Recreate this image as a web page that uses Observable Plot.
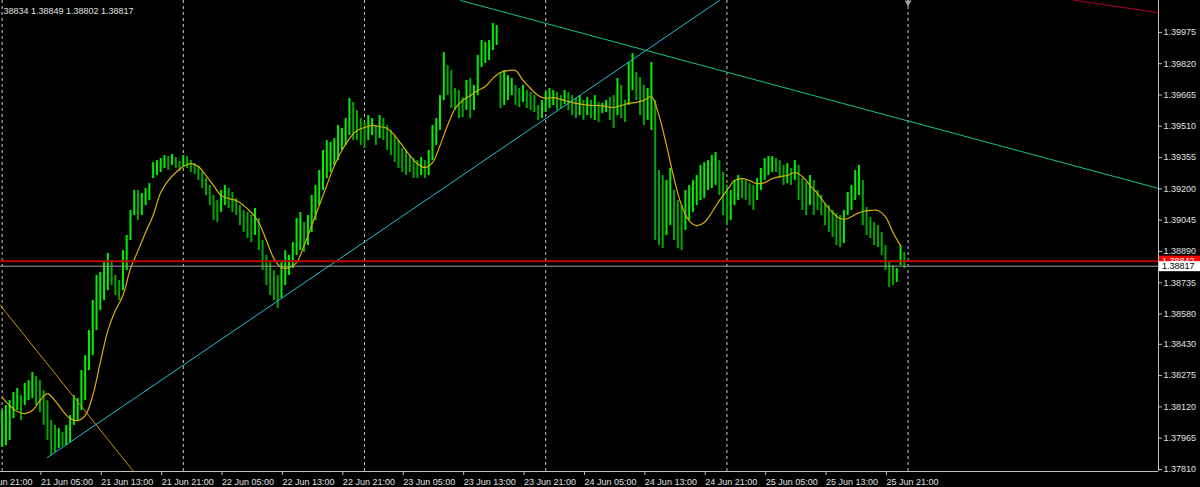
<!DOCTYPE html>
<html><head><meta charset="utf-8">
<script src="https://cdn.jsdelivr.net/npm/d3@7"></script>
<script src="https://cdn.jsdelivr.net/npm/@observablehq/plot@0.6"></script>
<style>
html,body{margin:0;padding:0;background:#000;}
#chart{width:1200px;height:487px;overflow:hidden;background:#000;}
</style></head><body><div id="chart"></div>
<script>
// ---- data (GBPUSD, 30-minute bars from 21 Jun 2021 00:00) ----
const barStartLabel = "21 Jun 00:00";
const barHigh = [
1.38102,1.38127,1.38151,1.38191,1.38211,1.38176,1.38236,1.38250,1.38290,1.38270,
1.38250,1.38201,1.38151,1.38052,1.38028,1.38013,1.37993,1.38028,1.38077,1.38176,
1.38161,1.38300,1.38374,1.38498,1.38647,1.38771,1.38786,1.38835,1.38880,1.38845,
1.38771,1.38746,1.38894,1.38969,1.39093,1.39192,1.39192,1.39177,1.39202,1.39226,
1.39330,1.39340,1.39350,1.39365,1.39360,1.39370,1.39355,1.39335,1.39365,1.39360,
1.39340,1.39325,1.39311,1.39281,1.39251,1.39217,1.39167,1.39142,1.39192,1.39217,
1.39202,1.39182,1.39152,1.39117,1.39093,1.39083,1.39068,1.39103,1.39053,1.38944,
1.38870,1.38835,1.38795,1.38771,1.38835,1.38894,1.38870,1.38934,1.39053,1.39083,
1.39033,1.39068,1.39167,1.39217,1.39291,1.39390,1.39439,1.39430,1.39449,1.39514,
1.39499,1.39548,1.39648,1.39628,1.39588,1.39548,1.39529,1.39563,1.39548,1.39514,
1.39563,1.39548,1.39514,1.39489,1.39464,1.39439,1.39400,1.39390,1.39365,1.39350,
1.39340,1.39355,1.39340,1.39390,1.39514,1.39548,1.39662,1.39875,1.39811,1.39786,
1.39697,1.39687,1.39652,1.39737,1.39747,1.39712,1.39861,1.39935,1.39925,1.39935,
1.40019,1.40009,1.39776,1.39786,1.39761,1.39747,1.39712,1.39697,1.39712,1.39687,
1.39677,1.39662,1.39613,1.39638,1.39677,1.39697,1.39687,1.39677,1.39662,1.39687,
1.39677,1.39662,1.39648,1.39662,1.39638,1.39652,1.39638,1.39662,1.39628,1.39623,
1.39638,1.39652,1.39662,1.39747,1.39712,1.39638,1.39826,1.39870,1.39776,1.39752,
1.39712,1.39697,1.39826,1.39638,1.39291,1.39266,1.39241,1.39301,1.39192,1.39142,
1.39117,1.39192,1.39217,1.39241,1.39266,1.39316,1.39330,1.39340,1.39365,1.39380,
1.39340,1.39281,1.39217,1.39192,1.39241,1.39266,1.39251,1.39241,1.39226,1.39217,
1.39251,1.39301,1.39350,1.39360,1.39360,1.39350,1.39340,1.39316,1.39325,1.39301,
1.39340,1.39316,1.39251,1.39231,1.39266,1.39241,1.39192,1.39167,1.39127,1.39117,
1.39093,1.39078,1.39068,1.39093,1.39182,1.39217,1.39291,1.39316,1.39241,1.39108,
1.39058,1.39033,1.39018,1.38984,1.38919,1.38835,1.38820,1.38805,1.38919,1.38885
];
const barLow = [
1.37919,1.37928,1.37953,1.38062,1.38102,1.38052,1.38127,1.38151,1.38161,1.38127,
1.38092,1.38028,1.37953,1.37879,1.37894,1.37914,1.37924,1.37928,1.37943,1.38028,
1.38052,1.38102,1.38151,1.38300,1.38374,1.38498,1.38597,1.38647,1.38696,1.38721,
1.38672,1.38647,1.38696,1.38795,1.38944,1.39068,1.39043,1.39068,1.39117,1.39142,
1.39251,1.39266,1.39281,1.39301,1.39291,1.39316,1.39301,1.39286,1.39306,1.39301,
1.39281,1.39271,1.39241,1.39202,1.39167,1.39117,1.39043,1.39033,1.39083,1.39117,
1.39103,1.39083,1.39068,1.39018,1.38984,1.38954,1.38934,1.38969,1.38894,1.38795,
1.38721,1.38672,1.38647,1.38607,1.38657,1.38721,1.38771,1.38805,1.38870,1.38894,
1.38885,1.38919,1.38984,1.39043,1.39117,1.39192,1.39251,1.39281,1.39316,1.39340,
1.39390,1.39415,1.39464,1.39439,1.39439,1.39415,1.39400,1.39439,1.39464,1.39415,
1.39449,1.39439,1.39390,1.39365,1.39330,1.39301,1.39281,1.39266,1.39281,1.39251,
1.39251,1.39266,1.39251,1.39266,1.39340,1.39415,1.39489,1.39638,1.39662,1.39598,
1.39588,1.39548,1.39553,1.39588,1.39548,1.39588,1.39662,1.39801,1.39821,1.39836,
1.39885,1.39910,1.39598,1.39613,1.39638,1.39662,1.39613,1.39603,1.39628,1.39598,
1.39588,1.39578,1.39539,1.39548,1.39578,1.39598,1.39613,1.39588,1.39598,1.39618,
1.39588,1.39563,1.39548,1.39563,1.39539,1.39563,1.39548,1.39539,1.39529,1.39573,
1.39578,1.39539,1.39499,1.39563,1.39548,1.39529,1.39613,1.39687,1.39638,1.39563,
1.39514,1.39539,1.39489,1.38944,1.38919,1.38904,1.38969,1.39018,1.38944,1.38904,
1.38894,1.38994,1.39043,1.39083,1.39117,1.39142,1.39152,1.39192,1.39202,1.39217,
1.39167,1.39068,1.39018,1.39043,1.39117,1.39142,1.39152,1.39142,1.39117,1.39093,
1.39142,1.39192,1.39241,1.39266,1.39281,1.39281,1.39251,1.39217,1.39226,1.39217,
1.39241,1.39142,1.39093,1.39068,1.39117,1.39068,1.39093,1.39068,1.39018,1.38984,
1.38959,1.38919,1.38909,1.38929,1.39068,1.39093,1.39142,1.39167,1.39018,1.38969,
1.38954,1.38919,1.38909,1.38870,1.38795,1.38711,1.38721,1.38736,1.38820,1.38805
];
// moving average, one value per hour from 21 Jun 00:00
const maValues = [
1.38166,1.38127,1.38097,1.38087,1.38102,1.38151,1.38186,1.38151,1.38102,1.38062,
1.38052,1.38077,1.38176,1.38340,1.38498,1.38597,1.38672,1.38805,1.38894,1.38984,
1.39068,1.39182,1.39241,1.39281,1.39311,1.39325,1.39311,1.39266,1.39217,1.39167,
1.39152,1.39142,1.39117,1.39083,1.39033,1.38944,1.38855,1.38810,1.38810,1.38835,
1.38919,1.39018,1.39117,1.39217,1.39316,1.39390,1.39449,1.39489,1.39504,1.39514,
1.39509,1.39499,1.39464,1.39415,1.39365,1.39325,1.39306,1.39330,1.39415,1.39514,
1.39598,1.39638,1.39662,1.39687,1.39707,1.39747,1.39776,1.39786,1.39786,1.39737,
1.39697,1.39662,1.39648,1.39652,1.39643,1.39633,1.39623,1.39618,1.39613,1.39613,
1.39608,1.39603,1.39613,1.39623,1.39628,1.39638,1.39657,1.39563,1.39415,1.39251,
1.39117,1.39043,1.39018,1.39033,1.39083,1.39142,1.39192,1.39241,1.39251,1.39241,
1.39226,1.39231,1.39251,1.39261,1.39266,1.39281,1.39261,1.39217,1.39177,1.39127,
1.39083,1.39053,1.39053,1.39073,1.39088,1.39093,1.39093,1.39063,1.38984,1.38919
];
// trend lines: [time label, price]
const cyanLine   = [["21 Jun 06:00", 1.37869], ["24 Jun 23:00", 1.40133]];
const greenLine  = [["23 Jun 12:45", 1.40133], ["27 Jun 09:10", 1.39202]];
const redTopLine = [["26 Jun 22:00", 1.40134], ["27 Jun 10:00", 1.40068]];
const goldLine   = [["20 Jun 22:00", 1.38705], ["21 Jun 19:00", 1.37726]];
const redLevel = 1.38842;
const bidLevel = 1.38817;
const xTickLabels = ["20 Jun 21:00","21 Jun 05:00","21 Jun 13:00","21 Jun 21:00","22 Jun 05:00","22 Jun 13:00",
  "22 Jun 21:00","23 Jun 05:00","23 Jun 13:00","23 Jun 21:00","24 Jun 05:00","24 Jun 13:00","24 Jun 21:00",
  "25 Jun 05:00","25 Jun 13:00","25 Jun 21:00"];
const dayLabels = ["21 Jun 00:00","22 Jun 00:00","23 Jun 00:00","24 Jun 00:00","25 Jun 00:00","26 Jun 00:00"];
const yTickLabels = ["1.37810","1.37965","1.38120","1.38275","1.38430","1.38580","1.38735","1.38890",
  "1.39045","1.39200","1.39355","1.39510","1.39665","1.39820","1.39975"];
const ohlcText = "38834 1.38849 1.38802 1.38817";
const viewStart = "20 Jun 23:47";
const viewEnd = "27 Jun 09:10";
const priceMin = 1.37800, priceMax = 1.40133;

// ---- helpers ----
const HOUR = 3600e3;
function parseT(s) {
  const [d, , hm] = s.split(" ");
  const [h, m] = hm.split(":").map(Number);
  return new Date(Date.UTC(2021, 5, +d, h, m));
}
const t0 = +parseT(barStartLabel);
const bars = barHigh.map((h, i) => ({t: new Date(t0 + i * HOUR / 2), high: h, low: barLow[i]}));
bars.forEach((b, i) => {
  const mid = (b.high + b.low) / 2;
  const prev = i ? (bars[i - 1].high + bars[i - 1].low) / 2 : mid;
  b.color = mid >= prev ? "#00f000" : "#00a800";
});
const ma = maValues.map((v, i) => ({t: new Date(t0 + i * HOUR), v}));
const seg = a => a.map(([s, p]) => ({t: parseT(s), p}));
const xTicks = xTickLabels.map(parseT);
const labelOf = new Map(xTickLabels.map(s => [+parseT(s), s]));
const dayLines = dayLabels.map(parseT);
const yTicks = yTickLabels.map(Number);
const xDomain = [parseT(viewStart), parseT(viewEnd)];
const FONT = "'Liberation Sans', Arial, sans-serif";

const plot = Plot.plot({
  width: 1200, height: 487,
  marginLeft: 0, marginRight: 42, marginTop: 0, marginBottom: 16,
  style: {background: "#000", color: "#d8d8d8", fontFamily: FONT, fontSize: "9px"},
  x: {type: "utc", domain: xDomain, axis: null, label: null},
  y: {domain: [priceMin, priceMax], axis: null, label: null},
  marks: [
    Plot.ruleX(dayLines, {stroke: "#c8c8c8", strokeDasharray: "3,3", strokeWidth: 1}),
    Plot.ruleX(bars, {x: "t", y1: "low", y2: "high", stroke: "color", strokeWidth: 2}),
    Plot.line(ma, {x: "t", y: "v", stroke: "#dcb000", strokeWidth: 1.2, curve: "catmull-rom"}),
    Plot.line(seg(goldLine), {x: "t", y: "p", stroke: "#c8960a", strokeWidth: 1, clip: true}),
    Plot.line(seg(cyanLine), {x: "t", y: "p", stroke: "#1ec0d0", strokeWidth: 1, clip: true}),
    Plot.line(seg(greenLine), {x: "t", y: "p", stroke: "#10c878", strokeWidth: 1, clip: true}),
    Plot.line(seg(redTopLine), {x: "t", y: "p", stroke: "#b4002a", strokeWidth: 1, clip: true}),
    Plot.ruleY([redLevel], {stroke: "#c00000", strokeWidth: 2}),
    Plot.ruleY([bidLevel], {stroke: "#a0a0a0", strokeWidth: 1}),
    Plot.text([ohlcText], {frameAnchor: "top-left", text: d => d, dx: 3, dy: 7, textAnchor: "start", fill: "#e0e0e0"}),
    Plot.dot([dayLines[dayLines.length - 1]], {x: d => d, frameAnchor: "top", dy: 2, symbol: "triangle", r: 2.5, rotate: 180, fill: "#9aa4b0", stroke: null}),
    Plot.ruleY([priceMin], {stroke: "#c0c0c0"}),
    Plot.ruleX([xDomain[1]], {stroke: "#c0c0c0"}),
    Plot.axisX(xTicks, {anchor: "bottom", label: null, tickSize: 4, tickPadding: 3, textAnchor: "start", dx: 1,
      tickFormat: d => labelOf.get(+d), stroke: "#c0c0c0", fill: "#e0e0e0"}),
    Plot.axisY(yTicks, {anchor: "right", label: null, tickSize: 3, tickPadding: 2, textAnchor: "start",
      tickFormat: d => d.toFixed(5), stroke: "#c0c0c0", fill: "#e0e0e0"})
  ]
});
document.getElementById("chart").appendChild(plot);

// price labels on the right axis
const sy = plot.scale("y"), sx = plot.scale("x");
const svg = d3.select(plot);
const xr = sx.range[1] + 1;
function priceBox(v, bg, fg, top, h) {
  const y = sy.apply(v);
  const g = svg.append("g");
  g.append("rect").attr("x", xr).attr("y", y - top).attr("width", 1200 - xr).attr("height", h).attr("fill", bg);
  g.append("text").attr("x", xr + 3).attr("y", y).attr("dy", "0.35em")
    .attr("text-anchor", "start")
    .attr("fill", fg).attr("font-size", 9).attr("font-family", FONT)
    .text(v.toFixed(5));
}
priceBox(redLevel, "#ff0000", "#ffffff", 5, 10);
priceBox(bidLevel, "#ffffff", "#000000", 4.5, 10);
</script></body></html>
